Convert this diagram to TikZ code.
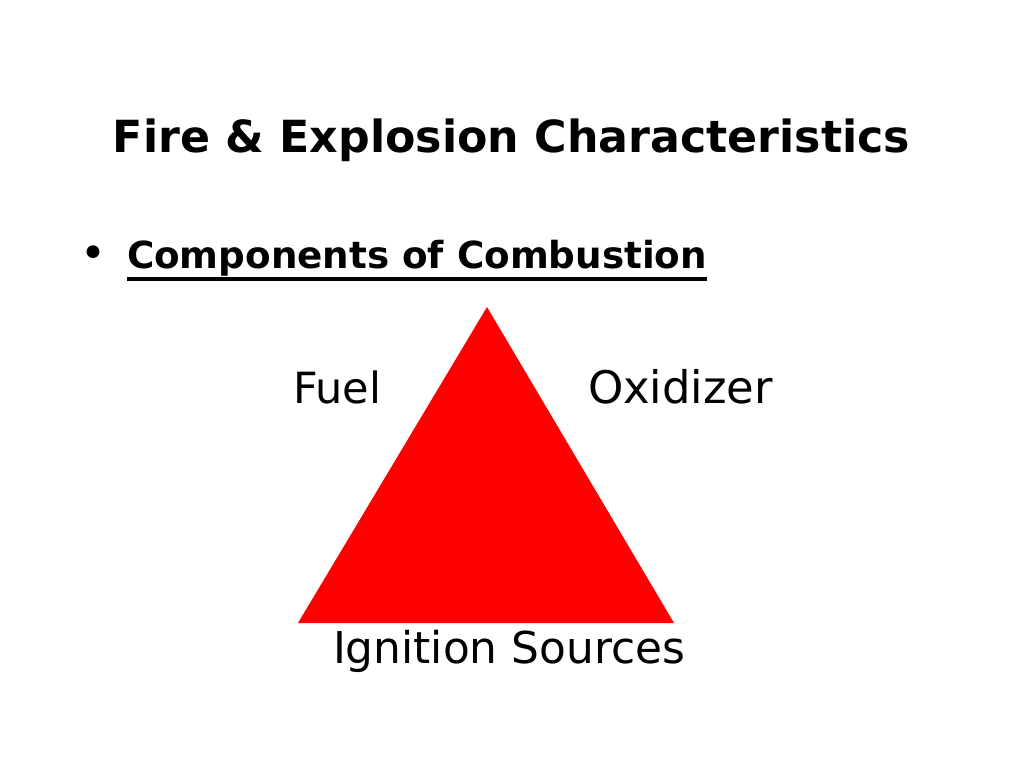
\documentclass[tikz,border=0pt]{standalone}
\usepackage{fontspec}
\setmainfont{DejaVu Sans}
\usepackage{graphicx}
\begin{document}
\begin{tikzpicture}[x=1pt,y=-1pt,
  lbl/.style={anchor=base,inner sep=0pt,outer sep=0pt,text=black}]
\useasboundingbox (0,0) rectangle (1024,768);
\fill[white] (0,0) rectangle (1024,768);
% triangle
\coordinate (apex) at (487,307);
\coordinate (bl) at (298,623);
\coordinate (br) at (674,623);
\fill[red] (apex) -- (br) -- (bl) -- cycle;
% title
\node[lbl] (title) at (511.5,152) {\resizebox{797pt}{!}{\bfseries Fire \& Explosion Characteristics}};
% bullet
\node[lbl] (bullet) at (93,268) {\fontsize{44}{50}\selectfont •};
\node[lbl,anchor=base west] (comp) at (127,268) {\resizebox{580pt}{!}{\bfseries Components of Combustion}};
\coordinate (ulA) at (127,279);
\coordinate (ulB) at (707,279);
\draw[line width=3.5pt] (ulA) -- (ulB);
% labels
\node[lbl,anchor=base west] (fuel) at (293,403) {\resizebox{88pt}{!}{Fuel}};
\node[lbl,anchor=base west] (oxid) at (588,403) {\resizebox{185pt}{!}{Oxidizer}};
\node[lbl,anchor=base west] (ign) at (333,663) {\resizebox{352pt}{!}{Ignition Sources}};
\end{tikzpicture}
\end{document}
